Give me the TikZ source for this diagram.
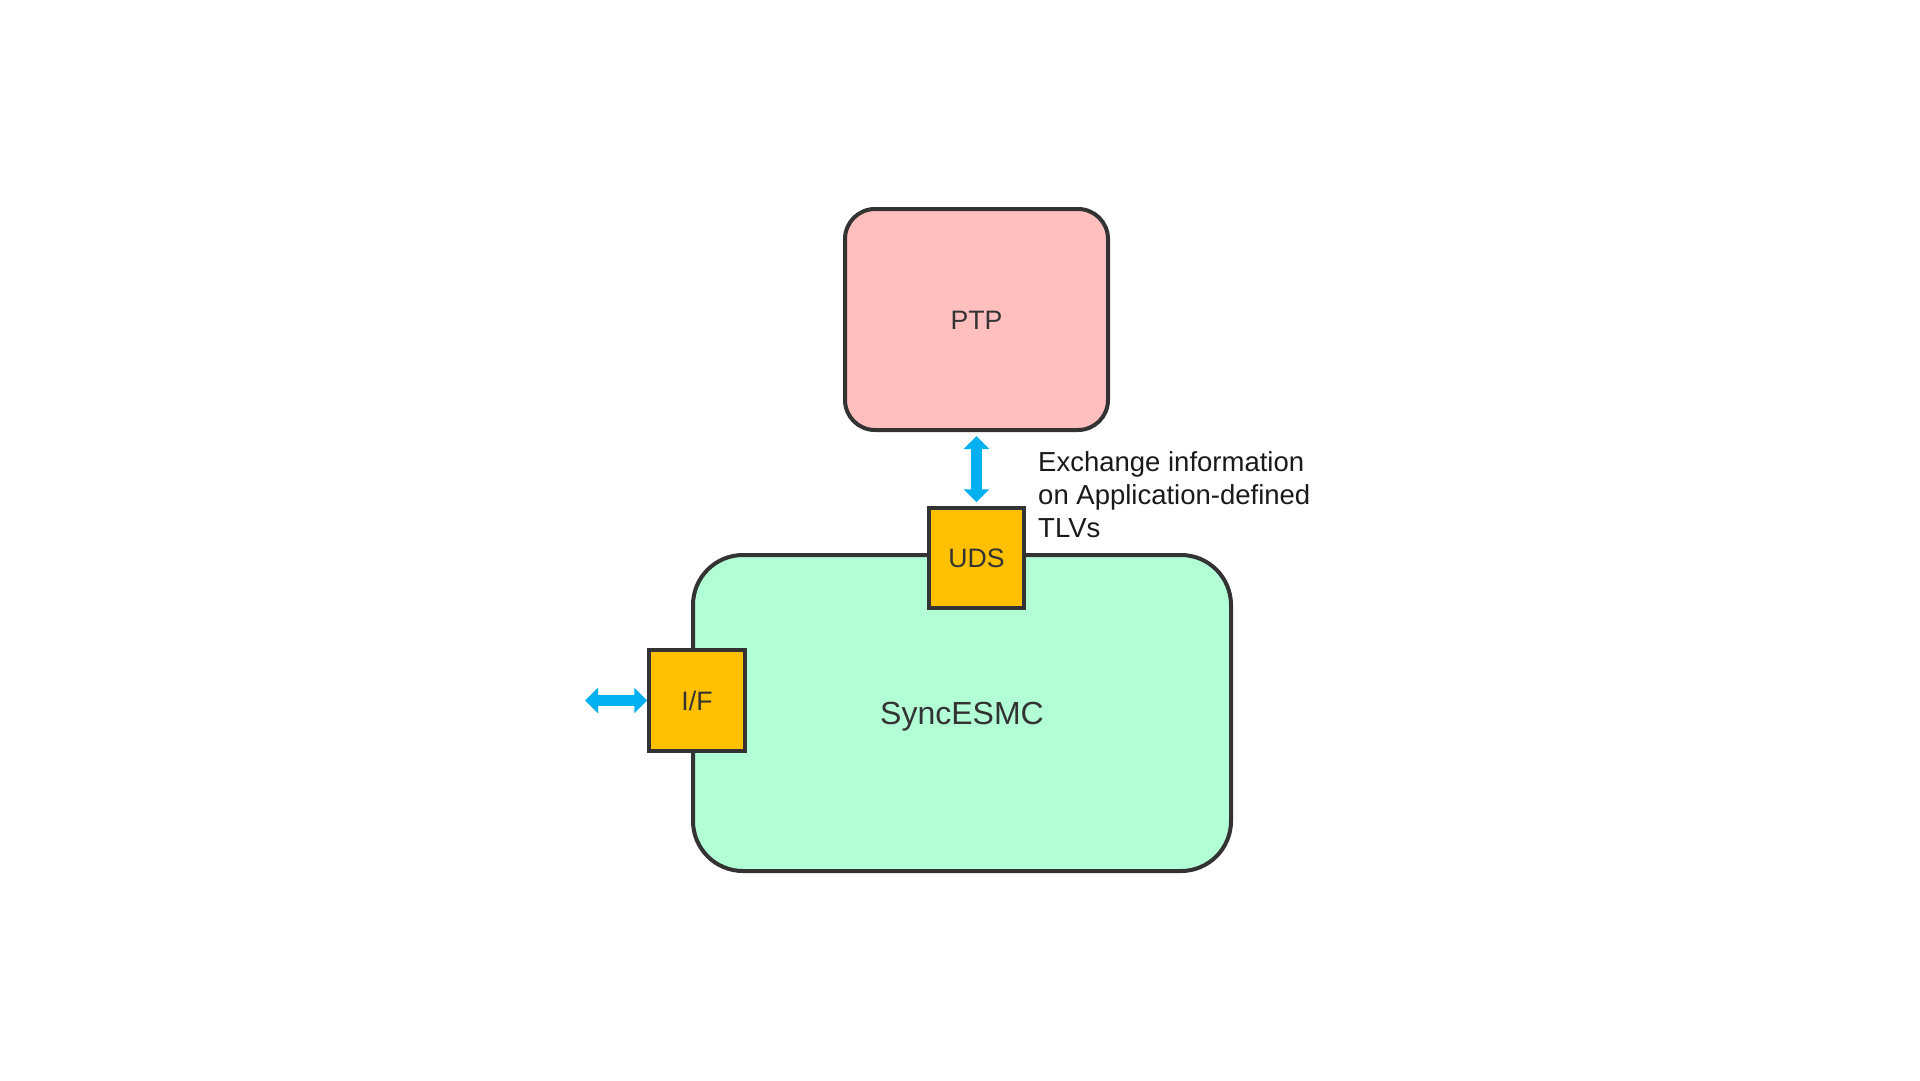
\documentclass[tikz,border=0pt]{standalone}
\usepackage{fontspec}
\setmainfont{Liberation Sans}
\usetikzlibrary{arrows.meta}
\definecolor{ptpfill}{HTML}{FFBFBF}
\definecolor{escfill}{HTML}{B3FFD5}
\definecolor{portfill}{HTML}{FFC000}
\definecolor{edgegray}{HTML}{333333}
\definecolor{arrowblue}{HTML}{00B0F0}
\definecolor{labeltext}{HTML}{1A1A1A}
\begin{document}
\begin{tikzpicture}[x=1pt,y=-1pt,
  box/.style={draw=edgegray, line width=3.5pt, text=edgegray, inner sep=0pt,
    font=\fontsize{26.67}{32}\selectfont, text height=19.1pt, text depth=0pt},
  bigbox/.style={box, line width=4pt},
  portbox/.style={box, fill=portfill},
  blockarrow/.style={color=arrowblue, line width=11pt,
    {Triangle[width=25pt,length=13pt]}-{Triangle[width=25pt,length=13pt]}}]
\useasboundingbox[fill=white] (0,0) rectangle (1920,1080);

\node[bigbox, fill=escfill, rounded corners=50pt, minimum width=538pt, minimum height=316pt,
  font=\fontsize{32}{38}\selectfont, text height=22.9pt] (esmc) at (962,713) {SyncESMC};
\node[bigbox, fill=ptpfill, rounded corners=30pt, minimum width=263pt, minimum height=221pt]
  (ptp) at (976.5,319.5) {PTP};
\node[portbox, minimum width=95pt, minimum height=100pt] (uds) at (976.5,558) {UDS};
\node[portbox, minimum width=96pt, minimum height=101pt] (if) at (697,700.5) {I/F};

\coordinate (ext) at (585,700.5);
\draw[blockarrow, shorten <=4pt, shorten >=4pt] (ptp.south) -- (uds.north);
\draw[blockarrow] (ext) -- (if.west);

\node[anchor=base west, align=left, inner sep=0pt, text=labeltext,
  font=\fontsize{27.5}{33}\selectfont] (lbl) at (1038,537)
  {Exchange information\\on Application-defined\\TLVs};
\end{tikzpicture}
\end{document}
